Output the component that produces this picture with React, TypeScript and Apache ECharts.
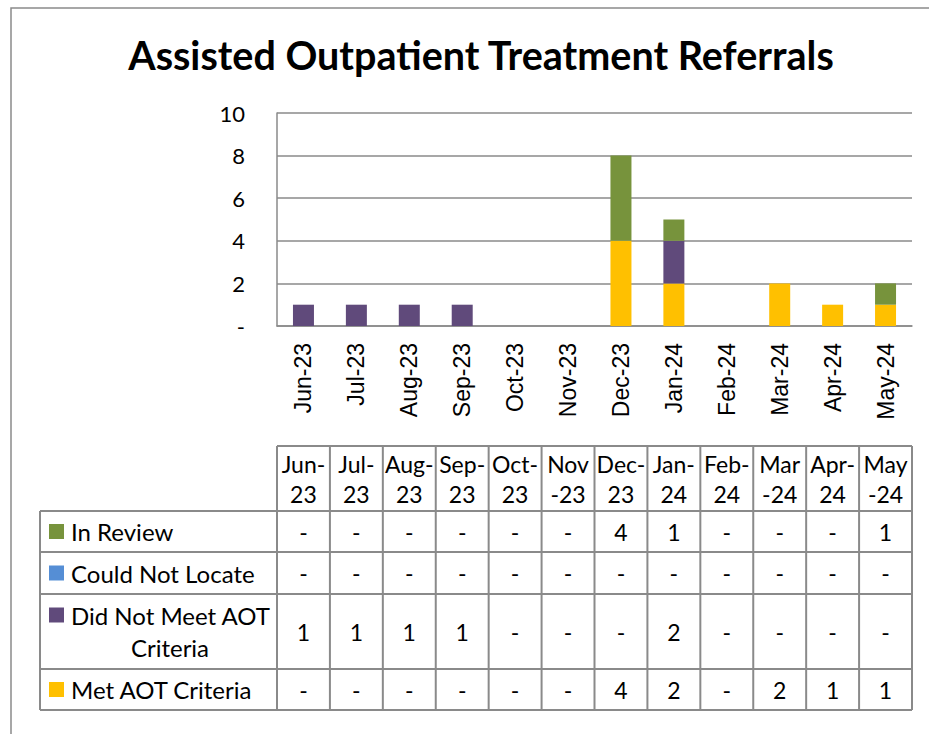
import React, { useEffect, useRef } from "react";
import * as echarts from "echarts";

const categories = ["Jun-23", "Jul-23", "Aug-23", "Sep-23", "Oct-23", "Nov-23", "Dec-23", "Jan-24", "Feb-24", "Mar-24", "Apr-24", "May-24"];
const headerLabels = ["Jun-\n23", "Jul-\n23", "Aug-\n23", "Sep-\n23", "Oct-\n23", "Nov\n-23", "Dec-\n23", "Jan-\n24", "Feb-\n24", "Mar\n-24", "Apr-\n24", "May\n-24"];
const inReview = [0, 0, 0, 0, 0, 0, 4, 1, 0, 0, 0, 1];
const couldNotLocate = [0, 0, 0, 0, 0, 0, 0, 0, 0, 0, 0, 0];
const didNotMeet = [1, 1, 1, 1, 0, 0, 0, 2, 0, 0, 0, 0];
const metAOT = [0, 0, 0, 0, 0, 0, 4, 2, 0, 2, 1, 1];
const yTicks = [0, 2, 4, 6, 8, 10];

const COLORS = {
  inReview: "#77933C",
  couldNotLocate: "#558ED5",
  didNotMeet: "#604A7B",
  met: "#FFC000",
};
const FONT = "Lato, 'Noto Sans', sans-serif";
const AXIS_FONT = "'Liberation Sans', Arial, sans-serif";
const GRAY = "#8a8a8a";

const tableRows = [
  { lines: ["In Review"], color: COLORS.inReview, values: inReview },
  { lines: ["Could Not Locate"], color: COLORS.couldNotLocate, values: couldNotLocate },
  { lines: ["Did Not Meet AOT", "Criteria"], color: COLORS.didNotMeet, values: didNotMeet },
  { lines: ["Met AOT Criteria"], color: COLORS.met, values: metAOT },
];

export default function App() {
  const ref = useRef<HTMLDivElement>(null);
  useEffect(() => {
    if (!ref.current) return;
    const chart = echarts.init(ref.current, null, { renderer: "svg" });
    const gridLeft = 277;
    const gridRight = 912;
    const gridTop = 113;
    const gridBottom = 326;
    const option: any = {
      animation: false,
      backgroundColor: "#ffffff",
      title: {
        text: "Assisted Outpatient Treatment Referrals",
        left: 476,
        textAlign: "center",
        top: 29,
        textStyle: { fontFamily: FONT, fontWeight: "bold", fontSize: 39.5, color: "#000" },
      },
      grid: { left: gridLeft, top: gridTop, width: gridRight - gridLeft, height: gridBottom - gridTop, containLabel: false },
      xAxis: {
        type: "category",
        data: categories,
        axisLine: { show: true, lineStyle: { color: GRAY, width: 1.5 } },
        axisTick: { show: false },
        axisLabel: { rotate: 90, margin: 17, fontFamily: AXIS_FONT, fontSize: 23, color: "#000", interval: 0 },
      },
      yAxis: {
        type: "value",
        min: yTicks[0],
        max: yTicks[yTicks.length - 1],
        interval: 2,
        axisLine: { show: true, lineStyle: { color: GRAY, width: 1.5 } },
        axisTick: { show: false },
        splitLine: { show: true, lineStyle: { color: GRAY, width: 1.5 } },
        axisLabel: {
          margin: 32,
          fontFamily: FONT,
          fontSize: 22,
          color: "#000",
          formatter: (v: number) => (v === 0 ? "-" : String(v)),
        },
      },
      series: [
        { name: "Met AOT Criteria", type: "bar", stack: "t", data: metAOT, itemStyle: { color: COLORS.met }, barWidth: 21 },
        { name: "Did Not Meet AOT Criteria", type: "bar", stack: "t", data: didNotMeet, itemStyle: { color: COLORS.didNotMeet } },
        { name: "Could Not Locate", type: "bar", stack: "t", data: couldNotLocate, itemStyle: { color: COLORS.couldNotLocate } },
        { name: "In Review", type: "bar", stack: "t", data: inReview, itemStyle: { color: COLORS.inReview } },
      ],
    };
    chart.setOption(option);

    // Build data table using the axis scale for columns
    const centers = categories.map((_, i) => chart.convertToPixel({ xAxisIndex: 0 }, i) as number);
    const band = (gridRight - gridLeft) / categories.length;
    const edges = [centers[0] - band / 2, ...centers.map((c) => c + band / 2)];
    const tableLeft = 40;
    const tableRight = edges[edges.length - 1];
    const headerTop = 446;
    const rowYs = [511, 552, 594, 669, 710];
    const els: any[] = [];
    const line = (x1: number, y1: number, x2: number, y2: number) =>
      els.push({ type: "line", shape: { x1, y1, x2, y2 }, style: { stroke: GRAY, lineWidth: 2 }, silent: true });
    // frame
    els.push({ type: "rect", shape: { x: 11, y: 8, width: 1000, height: 1000 }, style: { fill: "none", stroke: GRAY, lineWidth: 1.5 }, silent: true, z: -1 });
    line(edges[0], headerTop, tableRight, headerTop);
    rowYs.forEach((y) => line(tableLeft, y, tableRight, y));
    line(tableLeft, rowYs[0], tableLeft, rowYs[rowYs.length - 1]);
    edges.forEach((x) => line(x, headerTop, x, rowYs[rowYs.length - 1]));
    headerLabels.forEach((h, i) => {
      const parts = h.split("\n");
      parts.forEach((p, k) => {
        els.push({
          type: "text",
          x: centers[i],
          y: 464 + k * 30,
          style: { text: p, fontFamily: FONT, fontSize: 23, fill: "#000", align: "center", verticalAlign: "middle" },
        });
      });
    });
    tableRows.forEach((r, ri) => {
      const top = rowYs[ri];
      const bottom = rowYs[ri + 1];
      const mid = (top + bottom) / 2;
      const firstY = r.lines.length > 1 ? top + 21 : mid;
      els.push({ type: "rect", shape: { x: 49, y: firstY - 7.5, width: 15, height: 15 }, style: { fill: r.color } });
      if (r.lines.length === 1) {
        els.push({ type: "text", x: 71, y: mid, style: { text: r.lines[0], fontFamily: FONT, fontSize: 24, fill: "#000", align: "left", verticalAlign: "middle" } });
      } else {
        els.push({ type: "text", x: 71, y: firstY, style: { text: r.lines[0], fontFamily: FONT, fontSize: 24, fill: "#000", align: "left", verticalAlign: "middle" } });
        els.push({ type: "text", x: 170, y: firstY + 32, style: { text: r.lines[1], fontFamily: FONT, fontSize: 24, fill: "#000", align: "center", verticalAlign: "middle" } });
      }
      r.values.forEach((v, i) => {
        els.push({ type: "text", x: centers[i], y: mid, style: { text: v === 0 ? "-" : String(v), fontFamily: FONT, fontSize: 23, fill: "#000", align: "center", verticalAlign: "middle" } });
      });
    });
    chart.setOption({ graphic: { elements: els } });
    return () => chart.dispose();
  }, []);
  return <div ref={ref} style={{ position: "fixed", left: 0, top: 0, width: 929, height: 734 }} />;
}
